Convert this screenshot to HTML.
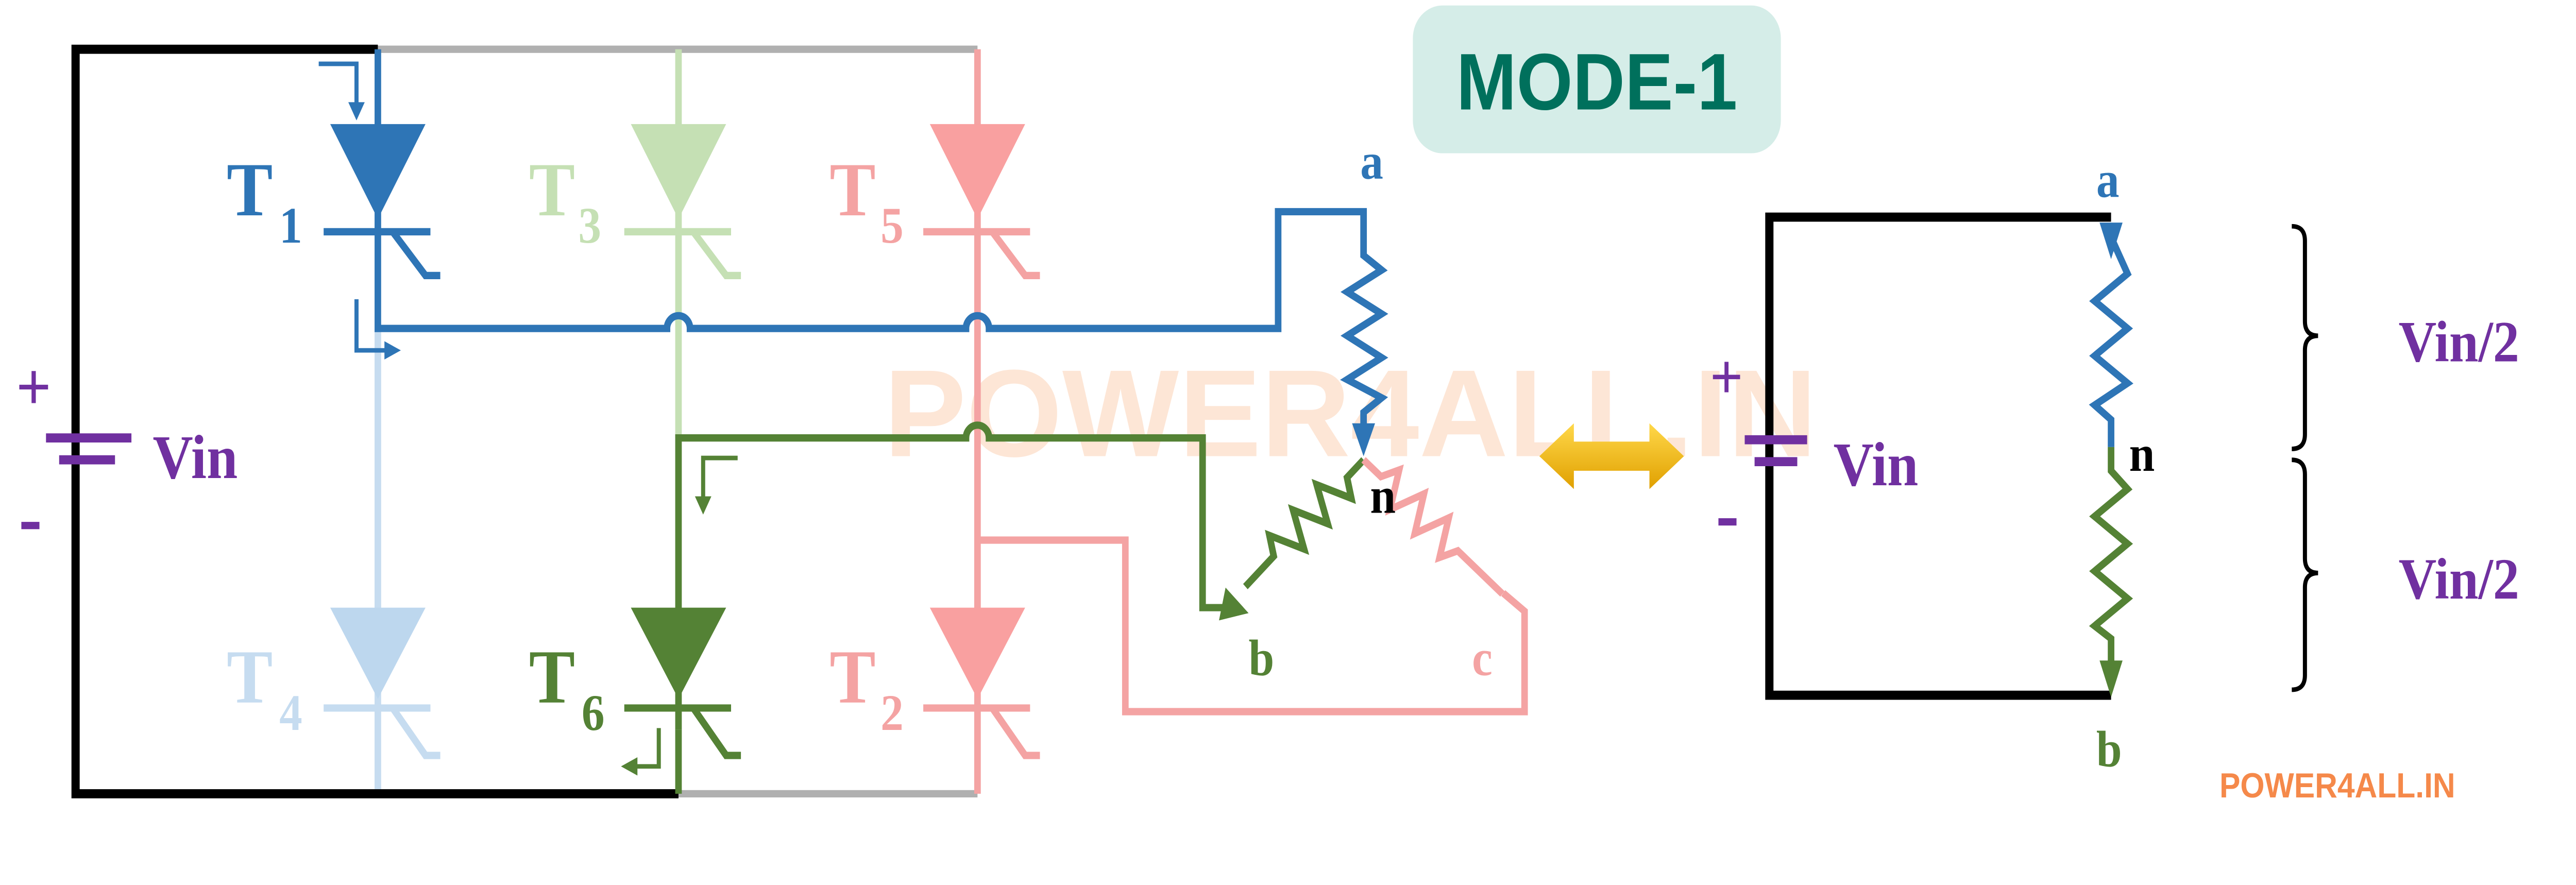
<!DOCTYPE html>
<html><head><meta charset="utf-8"><style>
html,body{margin:0;padding:0;background:#fff;width:100%;height:100%;overflow:hidden}
svg{display:block;position:fixed;left:0;top:0;width:100vw;height:100vh}
.s{font-family:"Liberation Serif",serif;font-weight:bold}
</style></head><body>
<svg viewBox="0 0 1568 485" preserveAspectRatio="none" xmlns="http://www.w3.org/2000/svg">
<rect width="1568" height="485" fill="#fff"/>
<text x="538" y="250" font-family="Liberation Sans,sans-serif" font-weight="bold" font-size="68" fill="#fde6d6" textLength="568" lengthAdjust="spacingAndGlyphs">POWER4ALL.IN</text>
<rect x="860" y="3" width="224" height="81" rx="18" fill="#d5ede8"/>
<text x="972" y="60" text-anchor="middle" font-family="Liberation Sans,sans-serif" font-weight="bold" font-size="44" fill="#00705c">MODE-1</text>

<g fill="none" stroke-linejoin="miter">
<path d="M230,27 H595 M413,435 H595" stroke="#b0b0b0" stroke-width="4"/>
<path d="M595,27 V435 M595,296 H685 V390 H928 V335 L915,325" stroke="#f4a3a3" stroke-width="4"/>
<path d="M413,27 V240" stroke="#c5e0b4" stroke-width="4"/>
<path d="M230,180 V435" stroke="#c6dcf0" stroke-width="4"/>
<path d="M230,27 H46 V435 H413" stroke="#000" stroke-width="5"/>
<path d="M230,27 V180 H406 A7,7 0 0 1 420,180 H588 A7,7 0 0 1 602,180 H778 V116 H830 V140 L841,148 L820,160 L841,172 L820,184 L841,196 L820,208 L841,218 L830,226 V240" stroke="#2e75b6" stroke-width="4"/>
<path d="M413,400 V240 H588 A7,7 0 0 1 602,240 H732 V333 H748" stroke="#548235" stroke-width="4"/>
<path d="M413,400 V435" stroke="#548235" stroke-width="4"/>
<path d="M194,35 H217 V58" stroke="#2e75b6" stroke-width="2.5"/>
<path d="M217,164 V192 H236" stroke="#2e75b6" stroke-width="2.5"/>
<path d="M449,251 H428 V274" stroke="#548235" stroke-width="2.5"/>
<path d="M401,399 V420 H386" stroke="#548235" stroke-width="2.5"/>
</g>
<path d="M212,56 L222,56 L217,66Z" fill="#2e75b6"/>
<path d="M234,187 L244,192 L234,197Z" fill="#2e75b6"/>
<path d="M423,272 L433,272 L428,282Z" fill="#548235"/>
<path d="M388,415 L378,420 L388,425Z" fill="#548235"/>

<g stroke-width="4" fill="none">
<path stroke="#2e75b6" d="M197,127 H262 M239,127 L259,151 H268"/>
<path d="M201,68 L259,68 L230,120Z" fill="#2e75b6"/>
<path stroke="#c5e0b4" d="M380,127 H445 M422,127 L442,151 H451"/>
<path d="M384,68 L442,68 L413,120Z" fill="#c5e0b4"/>
<path stroke="#f4a3a3" d="M562,127 H627 M604,127 L624,151 H633"/>
<path d="M566,68 L624,68 L595,120Z" fill="#f9a0a0"/>
<path stroke="#c6dcf0" d="M197,388 H262 M239,388 L259,414 H268"/>
<path d="M201,333 L259,333 L230,383Z" fill="#bdd7ee"/>
<path stroke="#548235" d="M380,388 H445 M422,388 L442,414 H451"/>
<path d="M384,333 L442,333 L413,383Z" fill="#548235"/>
<path stroke="#f4a3a3" d="M562,388 H627 M604,388 L624,414 H633"/>
<path d="M566,333 L624,333 L595,383Z" fill="#f9a0a0"/>
</g>

<g class="s">
<text x="138" y="118" font-size="42" fill="#2e75b6">T</text><text x="170" y="133" font-size="28" fill="#2e75b6">1</text>
<text x="322" y="118" font-size="42" fill="#c5e0b4">T</text><text x="352" y="133" font-size="28" fill="#c5e0b4">3</text>
<text x="505" y="118" font-size="42" fill="#f4a3a3">T</text><text x="536" y="133" font-size="28" fill="#f4a3a3">5</text>
<text x="138" y="385" font-size="42" fill="#c6dcf0">T</text><text x="170" y="400" font-size="28" fill="#c6dcf0">4</text>
<text x="322" y="385" font-size="42" fill="#548235">T</text><text x="354" y="400" font-size="28" fill="#548235">6</text>
<text x="505" y="385" font-size="42" fill="#f4a3a3">T</text><text x="536" y="400" font-size="28" fill="#f4a3a3">2</text>
</g>

<path d="M823,232 L837,232 L830,250Z" fill="#2e75b6"/>
<g transform="translate(830,252) rotate(136)" fill="none" stroke="#548235" stroke-width="4">
<polyline points="0,0 14,0 20,-10 30,10 40,-10 50,10 60,-10 70,10 76,0 100,0"/>
</g>
<path d="M746,322 L760,336 L742,340Z" fill="#548235"/>
<g transform="translate(830,252) rotate(41)" fill="none" stroke="#f4a3a3" stroke-width="4">
<polyline points="0,0 14,0 20,-10 30,10 40,-10 50,10 60,-10 70,10 76,0 112,0"/>
</g>
<g class="s" font-size="28">
<text x="828" y="98" fill="#2e75b6">a</text>
<text x="834" y="281" fill="#000">n</text>
<text x="760" y="370" fill="#548235">b</text>
<text x="896" y="370" fill="#f4a3a3">c</text>
</g>

<path d="M28,240 H80" stroke="#7030a0" stroke-width="5"/>
<path d="M36,252 H70" stroke="#7030a0" stroke-width="5"/>
<text x="10" y="224" font-family="Liberation Sans,sans-serif" font-size="36" fill="#7030a0">+</text>
<rect x="13" y="286" width="11" height="4" fill="#7030a0"/>
<text x="93" y="262" class="s" font-size="34" fill="#7030a0">Vin</text>

<defs><linearGradient id="g" x1="0" y1="0" x2="0" y2="1"><stop offset="0" stop-color="#ffd84a"/><stop offset="1" stop-color="#e0a000"/></linearGradient></defs>
<path d="M937,250 L958,232 V242 H1004 V232 L1025,250 L1004,268 V258 H958 V268Z" fill="url(#g)"/>

<path d="M1285,119 H1077 V381 H1285" fill="none" stroke="#000" stroke-width="5"/>
<path d="M1062,241 H1100" stroke="#7030a0" stroke-width="5"/>
<path d="M1068,253 H1094" stroke="#7030a0" stroke-width="5"/>
<text x="1041" y="218" font-family="Liberation Sans,sans-serif" font-size="34" fill="#7030a0">+</text>
<rect x="1046" y="284" width="11" height="4" fill="#7030a0"/>
<text x="1116" y="266" class="s" font-size="34" fill="#7030a0">Vin</text>
<path d="M1285,130 L1295,150 L1275,165 L1295,180 L1275,195 L1295,210 L1275,222 L1285,230 V245" fill="none" stroke="#2e75b6" stroke-width="4"/>
<path d="M1278,122 L1292,122 L1285,142Z" fill="#2e75b6"/>
<path d="M1285,245 V258 L1295,268 L1275,283 L1295,298 L1275,313 L1295,328 L1275,343 L1285,350 V370" fill="none" stroke="#548235" stroke-width="4"/>
<path d="M1278,362 L1292,362 L1285,382Z" fill="#548235"/>
<g class="s" font-size="28">
<text x="1276" y="108" fill="#2e75b6">a</text>
<text x="1296" y="258" fill="#000">n</text>
<text x="1276" y="420" fill="#548235">b</text>
</g>
<g fill="none" stroke="#000" stroke-width="2.5">
<path d="M1395,124 Q1403,124 1403,132 V176 Q1403,184 1411,184 Q1403,184 1403,192 V238 Q1403,246 1395,246"/>
<path d="M1395,252 Q1403,252 1403,260 V306 Q1403,314 1411,314 Q1403,314 1403,322 V370 Q1403,378 1395,378"/>
</g>
<text x="1460" y="198" class="s" font-size="32" fill="#7030a0">Vin/2</text>
<text x="1460" y="328" class="s" font-size="32" fill="#7030a0">Vin/2</text>
<text x="1351" y="437" font-family="Liberation Sans,sans-serif" font-weight="bold" font-size="19" fill="#f5894a">POWER4ALL.IN</text>
</svg>
</body></html>
